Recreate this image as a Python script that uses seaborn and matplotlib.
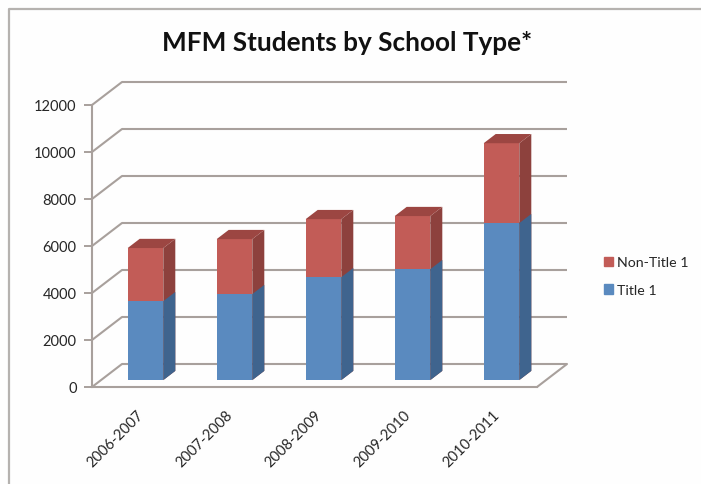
# MFM students by school type, fake 3D stacked columns in the old Excel style

import numpy as np
import pandas as pd
import matplotlib
matplotlib.use('Agg')
import matplotlib.pyplot as plt
import matplotlib.patches as mpatches
from matplotlib.lines import Line2D
import seaborn as sns

years = ['2006-2007', '2007-2008', '2008-2009', '2009-2010', '2010-2011']
title_1 = [3360, 3660, 4380, 4720, 6680]
non_title_1 = [2260, 2340, 2470, 2260, 3400]
y_ticks = [0, 2000, 4000, 6000, 8000, 10000, 12000]

GRID = '#A8A09C'
TEXT = '#262626'
BLUE = ('#5A8ABF', '#3F648E', '#46709E')
RED = ('#C25C57', '#8D413D', '#9C4642')

# depth of the box, in data units (30 px right, 23 px up on the picture)
DEPTH_X = 30 / 89
DEPTH_Y = 23 / 282 * 12000
BAR_START = 0.3   # front of the columns, as a share of the depth
BAR_DEPTH = 0.4

sns.set_theme(style='white')
plt.rcParams['font.family'] = ['Lato', 'DejaVu Sans']

W, H = 701, 485
fig = plt.figure(figsize=(W / 100, H / 100), dpi=100, facecolor='#FEFEFE')
ax = fig.add_axes([92 / W, (H - 388) / H, 445 / W, 282 / H])
ax.patch.set_alpha(0)

df = pd.DataFrame({'year': years, 'title': title_1, 'non_title': non_title_1})
df['total'] = df['title'] + df['non_title']

# the taller bar goes first, the lower one is painted over it
sns.barplot(data=df, x='year', y='total', color=RED[0], saturation=1, width=0.4,
            errorbar=None, linewidth=0, ax=ax)
sns.barplot(data=df, x='year', y='title', color=BLUE[0], saturation=1, width=0.4,
            errorbar=None, linewidth=0, ax=ax)

shift_x = DEPTH_X * BAR_START
shift_y = DEPTH_Y * BAR_START
side_x = DEPTH_X * BAR_DEPTH
side_y = DEPTH_Y * BAR_DEPTH

n = len(years)
for i, p in enumerate(list(ax.patches)):
    cols = RED if i < n else BLUE
    x, w, h = p.get_x() + shift_x, p.get_width(), p.get_height()
    p.set_x(x)
    p.set_y(shift_y)
    p.set_zorder(4 if i >= n else 3)
    top = shift_y + h
    ax.fill([x + w, x + w + side_x, x + w + side_x, x + w],
            [shift_y, shift_y + side_y, top + side_y, top],
            color=cols[1], lw=0, zorder=4 if i >= n else 3, clip_on=False)
    if i < n:
        ax.fill([x, x + side_x, x + w + side_x, x + w],
                [top, top + side_y, top + side_y, top],
                color=cols[2], lw=0, zorder=3, clip_on=False)

# box: back wall lines, left wall diagonals, floor
for t in y_ticks:
    ax.plot([-0.5 + DEPTH_X, 4.5 + DEPTH_X], [t + DEPTH_Y, t + DEPTH_Y],
            color=GRID, lw=1.5, zorder=1, clip_on=False, solid_capstyle='butt')
    ax.plot([-0.5, -0.5 + DEPTH_X], [t, t + DEPTH_Y],
            color=GRID, lw=1.5, zorder=1, clip_on=False)
ax.plot([4.5, 4.5 + DEPTH_X], [0, DEPTH_Y], color=GRID, lw=1.5, zorder=1, clip_on=False)

ax.set_xlim(-0.5, 4.5)
ax.set_ylim(0, 12000)
ax.set_xlabel('')
ax.set_ylabel('')
ax.set_yticks(y_ticks)
ax.set_xticks(range(n))
ax.set_xticklabels(years, rotation=45, ha='right', rotation_mode='anchor',
                   fontsize=10.5, color=TEXT)
ax.set_xticks(np.arange(-0.5, 5), minor=True)
ax.tick_params(axis='x', which='major', length=0, pad=15)
ax.tick_params(axis='x', which='minor', length=4, width=1.2, color=GRID)
ax.tick_params(axis='y', length=6, width=1.4, color=GRID, pad=5, labelsize=10.5,
               labelcolor=TEXT, left=True)
sns.despine(ax=ax)
for side in ('left', 'bottom'):
    ax.spines[side].set_color(GRID)
    ax.spines[side].set_linewidth(1.5)

handles = [mpatches.Patch(color=RED[0], label='Non-Title 1'),
           mpatches.Patch(color=BLUE[0], label='Title 1')]
fig.legend(handles=handles, loc='center left', bbox_to_anchor=(591 / W, (H - 277) / H),
           frameon=False, fontsize=10.2, labelcolor=TEXT, handlelength=0.65,
           handleheight=0.65, handletextpad=0.3, labelspacing=1.1)

fig.text(347 / W, (H - 43) / H, 'MFM Students by School Type*', ha='center', va='center',
         fontsize=18.8, fontweight='bold', color='#111111')

# outer frame of the pasted chart: only top and left show
fig.add_artist(Line2D([9 / W, 9 / W, 1], [0, (H - 10) / H, (H - 10) / H],
                      color='#B5B2AF', lw=1.6))

fig.savefig('out.png', dpi=100)
